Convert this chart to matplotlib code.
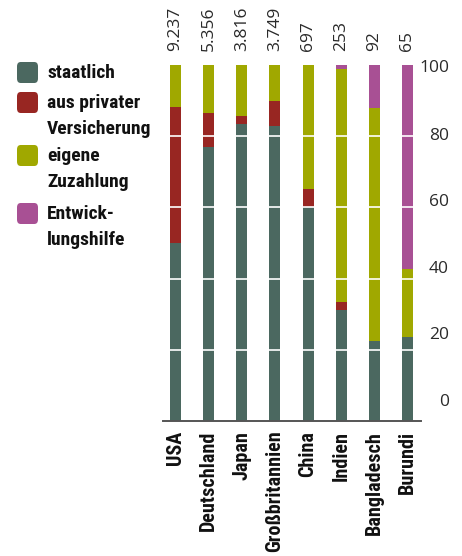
import matplotlib
matplotlib.use('Agg')
import matplotlib.pyplot as plt
from matplotlib import font_manager as fm
from matplotlib.patches import FancyBboxPatch
import numpy as np

# ---------------- data ----------------
countries = ['USA', 'Deutschland', 'Japan', 'Großbritannien', 'China',
             'Indien', 'Bangladesch', 'Burundi']
totals = [9237, 5356, 3816, 3749, 697, 253, 92, 65]
staatlich = [50.0, 77.0, 83.4, 83.0, 60.0, 31.2, 22.6, 23.6]
privat = [38.2, 9.6, 2.3, 7.0, 5.2, 2.2, 0.0, 0.0]
eigene = [11.8, 13.4, 14.3, 10.0, 34.8, 65.5, 65.3, 19.1]
entwicklung = [0.0, 0.0, 0.0, 0.0, 0.0, 1.1, 12.1, 57.3]
series = [staatlich, privat, eigene, entwicklung]
legend_labels = ['staatlich', 'aus privater\nVersicherung', 'eigene\nZuzahlung',
                 'Entwick-\nlungshilfe']
colors = ['#4b6860', '#982622', '#a0a800', '#a85094']
yticks = [0, 20, 40, 60, 80, 100]
# vertical nudges (pixels, up positive) of the printed tick labels
ylabel_nudge = [19, 15, 10, 5, 0, -3]


def pick(cands):
    for c in cands:
        try:
            fm.findfont(fm.FontProperties(family=c), fallback_to_default=False)
            return c
        except Exception:
            pass
    return 'DejaVu Sans'


cond = pick(['Roboto Condensed', 'Liberation Sans Narrow', 'Open Sans Condensed', 'Roboto'])
light = pick(['Open Sans', 'Lato', 'Roboto'])

W, H = 462, 556
PT = 72 / 100
fig = plt.figure(figsize=(W / 100, H / 100), dpi=100)
ax = fig.add_axes([163 / W, 1 - 421 / H, (421 - 163) / W, (421 - 65) / H])

x = np.arange(len(countries))
bottom = np.zeros(len(countries))
for vals, col in zip(series, colors):
    v = np.array(vals)
    ax.bar(x, v, bottom=bottom, width=0.33, color=col, zorder=1, linewidth=0)
    bottom += v

ax.set_xlim(-0.38, 7.41)
ax.set_ylim(0, 100)

for s in ['top', 'left', 'right']:
    ax.spines[s].set_visible(False)
ax.spines['bottom'].set_color('#555555')
ax.spines['bottom'].set_linewidth(1.4)
ax.spines['bottom'].set_zorder(5)

ax.set_yticks(yticks)
ax.tick_params(axis='y', length=0, labelleft=False, labelright=False, left=False, right=False)
ytrans = ax.get_yaxis_transform()
for t, dy in zip(yticks, ylabel_nudge):
    ax.annotate(str(t), xy=(1, t), xycoords=ytrans,
                xytext=(28 * PT, dy * PT), textcoords='offset points',
                ha='right', va='center', fontsize=12.5, family=light,
                color='#2a2a2a', annotation_clip=False)

ax.set_axisbelow(False)
ax.grid(axis='y', color='white', linewidth=1.2)
gls = ax.yaxis.get_gridlines()
gls[0].set_visible(False)
gls[-1].set_visible(False)
ax.grid(axis='x', visible=False)

ax.set_xticks(x)
ax.set_xticklabels(countries, rotation=90, fontsize=14.5, fontweight='bold',
                   family=cond, color='#111111', va='top', ha='center')
ax.tick_params(axis='x', length=0, pad=7)

for i, n in enumerate(totals):
    txt = f"{n:,}".replace(',', '.')
    ax.annotate(txt, xy=(x[i], 100), xytext=(0, 10), textcoords='offset points',
                rotation=90, ha='center', va='bottom', fontsize=12.5,
                family=light, fontweight='normal', color='#2a2a2a',
                annotation_clip=False)

# legend
sq_tops = [62, 92, 145, 203]
for lab, col, top in zip(legend_labels, colors, sq_tops):
    p = FancyBboxPatch((17 / W, 1 - (top + 21) / H), 21 / W, 21 / H,
                       boxstyle='round,pad=0,rounding_size=0.008',
                       transform=fig.transFigure, facecolor=col,
                       edgecolor='none', figure=fig)
    fig.patches.append(p)
    for k, line in enumerate(lab.split('\n')):
        fig.text(47 / W, 1 - (top + 11 + k * 26) / H, line, ha='left', va='center',
                 fontsize=14, fontweight='bold', family=cond, color='#111111')

fig.savefig('out.png', dpi=100)
